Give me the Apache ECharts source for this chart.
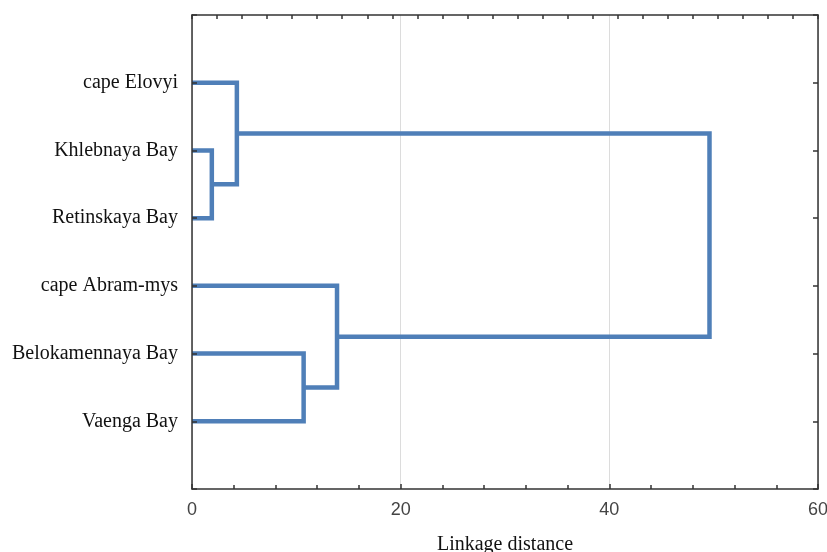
<!DOCTYPE html>
<html>
<head>
<meta charset="utf-8">
<script src="https://cdn.jsdelivr.net/npm/echarts@6/dist/echarts.min.js"></script>
<style>
html,body{margin:0;padding:0;background:#fff;}
#chart{width:827px;height:552px;}
</style>
</head>
<body>
<div id="chart"></div>
<script>
// Leaves (top to bottom)
const leaves = ['cape Elovyi', 'Khlebnaya Bay', 'Retinskaya Bay', 'cape Abram-mys', 'Belokamennaya Bay', 'Vaenga Bay'];
// Merges: node ids 0..5 are leaves, merge k creates node 6+k
const mergeLeft = [1, 0, 4, 3, 7];
const mergeRight = [2, 6, 5, 8, 9];
const mergeDistance = [1.9, 4.3, 10.7, 13.9, 49.6];
const xTicks = [0, 20, 40, 60];

const nodeX = leaves.map(() => 0);
const nodeY = leaves.map((_, i) => i + 1);
const series = [];
mergeDistance.forEach((d, k) => {
  const a = mergeLeft[k], b = mergeRight[k];
  series.push({
    type: 'line',
    xAxisIndex: 0, yAxisIndex: 0,
    symbol: 'none',
    silent: true,
    z: 2,
    lineStyle: { color: '#4f7fb8', width: 4.5, join: 'miter', cap: 'butt' },
    data: [[nodeX[a], nodeY[a]], [d, nodeY[a]], [d, nodeY[b]], [nodeX[b], nodeY[b]]]
  });
  nodeX.push(d);
  nodeY.push((nodeY[a] + nodeY[b]) / 2);
});

const frame = { show: true, onZero: false, lineStyle: { color: '#333', width: 1.5 } };
const tickStyle = { color: '#333', width: 1.5 };
const chart = echarts.init(document.getElementById('chart'));
chart.setOption({
  animation: false,
  backgroundColor: '#fff',
  grid: { left: 192, right: 9, top: 15, bottom: 63, containLabel: false, outerBoundsMode: 'none' },
  xAxis: [{
    type: 'value', position: 'bottom', min: xTicks[0], max: xTicks[xTicks.length - 1], interval: 20,
    axisLine: frame,
    axisTick: { show: true, inside: true, length: 5, lineStyle: tickStyle },
    minorTick: { show: true, splitNumber: 5, length: 4, lineStyle: tickStyle },
    splitLine: { show: true, lineStyle: { color: '#dcdcdc', width: 1 } },
    axisLabel: { margin: 12, fontFamily: '"Liberation Sans Narrow", "Liberation Sans", Arial, sans-serif', fontSize: 18, color: '#444' },
    name: 'Linkage distance', nameLocation: 'middle', nameGap: 46,
    nameTextStyle: { fontFamily: '"Liberation Serif", "Times New Roman", serif', fontSize: 20, color: '#111' }
  }, {
    type: 'value', position: 'top', min: 0, max: 60, interval: 2.4,
    axisLine: frame,
    axisTick: { show: true, inside: true, length: 4, lineStyle: tickStyle },
    minorTick: { show: false },
    axisLabel: { show: false }, splitLine: { show: false }
  }],
  yAxis: [{
    type: 'value', position: 'left', min: 0, max: leaves.length + 1, interval: 1, inverse: true, z: 5,
    axisLine: frame,
    axisTick: { show: true, inside: true, length: 5, lineStyle: tickStyle },
    splitLine: { show: false },
    axisLabel: {
      margin: 14,
      formatter: v => leaves[v - 1] || '',
      fontFamily: '"Liberation Serif", "Times New Roman", serif', fontSize: 20, color: '#111'
    }
  }, {
    type: 'value', position: 'right', min: 0, max: leaves.length + 1, interval: 1, inverse: true,
    axisLine: frame,
    axisTick: { show: true, inside: true, length: 5, lineStyle: tickStyle },
    splitLine: { show: false }, axisLabel: { show: false }
  }],
  series: series
});
</script>
</body>
</html>
